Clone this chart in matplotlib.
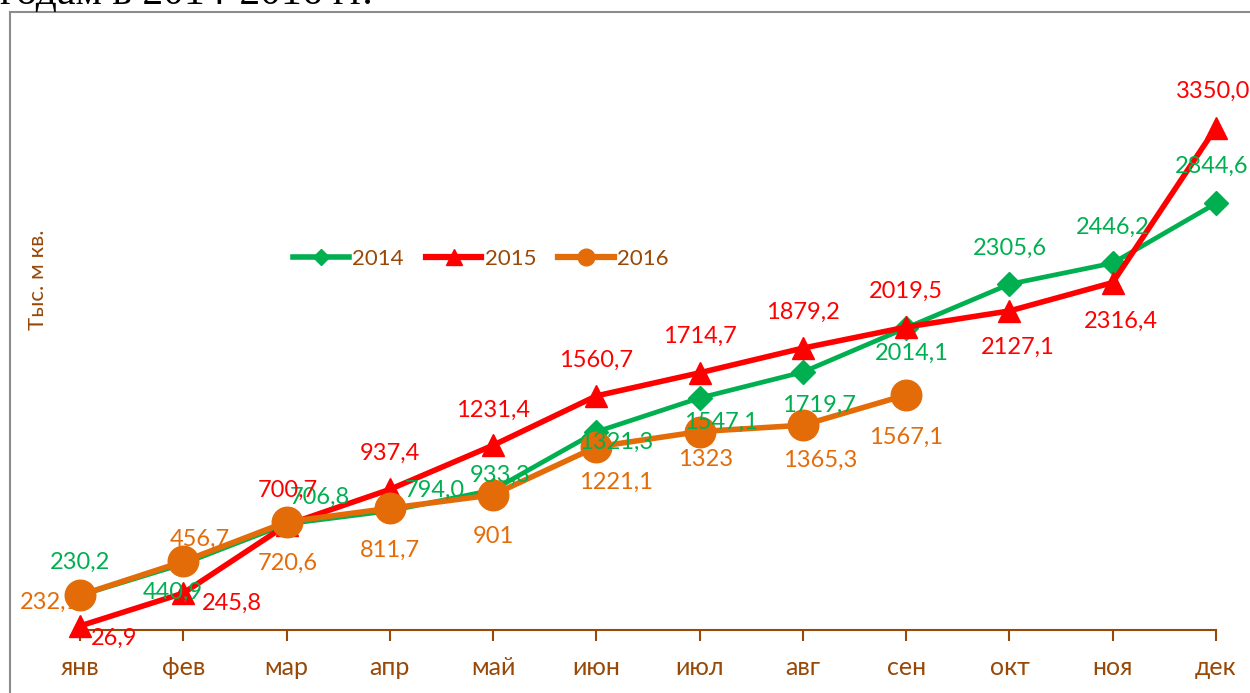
import numpy as np
import matplotlib.pyplot as plt
from matplotlib.lines import Line2D

# данные
months = ["янв", "фев", "мар", "апр", "май", "июн", "июл", "авг", "сен", "окт", "ноя", "дек"]
v2014 = [230.2, 440.9, 706.8, 794.0, 933.3, 1321.3, 1547.1, 1719.7, 2014.1, 2305.6, 2446.2, 2844.6]
v2015 = [26.9, 245.8, 700.7, 937.4, 1231.4, 1560.7, 1714.7, 1879.2, 2019.5, 2127.1, 2316.4, 3350.0]
v2016 = [232.1, 456.7, 720.6, 811.7, 901, 1221.1, 1323, 1365.3, 1567.1]
t2014 = ["230,2", "440,9", "706,8", "794,0", "933,3", "1321,3", "1547,1", "1719,7", "2014,1", "2305,6", "2446,2", "2844,6"]
t2015 = ["26,9", "245,8", "700,7", "937,4", "1231,4", "1560,7", "1714,7", "1879,2", "2019,5", "2127,1", "2316,4", "3350,0"]
t2016 = ["232,1", "456,7", "720,6", "811,7", "901", "1221,1", "1323", "1365,3", "1567,1"]

# смещения подписей (пиксели)
off2014 = [(0, 33), (-10, -28), (33, 27), (45, 21), (7, 15), (20, -11), (21, -24), (16, -33),
           (6, -25), (0, 36), (0, 36), (-4, 37)]
off2015 = [(34, -12), (49, -10), (1, 35), (0, 36), (0, 35), (0, 36), (0, 36), (0, 36),
           (0, 36), (8, -36), (8, -39), (-3, 36)]
off2016 = [(-30, -7), (17, 22), (1, -41), (0, -42), (0, -42), (20, -36), (6, -28), (17, -35), (0, -42)]

green = "#00B050"
red = "#FF0000"
orange = "#E36C09"
brown = "#984807"
font = ["Lato", "Noto Sans", "DejaVu Sans"]
plt.rcParams["font.family"] = font

fig = plt.figure(figsize=(12.5, 6.93), dpi=100)
ax = fig.add_axes([80 / 1250, 63 / 693, 1136 / 1250, 600 / 693])

x = np.arange(len(months))
ax.plot(x, v2014, color=green, lw=3.4, marker="D", ms=12, clip_on=False, zorder=3)
ax.plot(x, v2015, color=red, lw=4, marker="^", ms=16, clip_on=False, zorder=4)
ax.plot(x[:len(v2016)], v2016, color=orange, lw=4, marker="o", ms=22, clip_on=False, zorder=5)

for vals, labels, offs, c in [(v2014, t2014, off2014, green), (v2015, t2015, off2015, red),
                              (v2016, t2016, off2016, orange)]:
    for i, (v, s) in enumerate(zip(vals, labels)):
        ax.annotate(s, (i, v), xytext=offs[i], textcoords="offset pixels",
                    ha="center", va="center", color=c, fontsize=17, zorder=6,
                    annotation_clip=False)

ax.set_xlim(0, 11)
ax.set_ylim(0, 4000)
ax.set_xticks(x)
ax.set_xticklabels(months)
ax.set_yticks([])
for s in ["top", "right", "left"]:
    ax.spines[s].set_visible(False)
ax.spines["bottom"].set_color(brown)
ax.spines["bottom"].set_linewidth(1.5)
ax.tick_params(axis="x", colors=brown, labelsize=18, length=8, width=1.5, pad=11)
ax.set_ylabel("Тыс. м кв.", color=brown, fontsize=16)
ax.yaxis.set_label_coords(-32 / 1136, (630 - 280) / 600)

handles = [Line2D([], [], color=green, lw=4, marker="D", ms=8),
           Line2D([], [], color=red, lw=4.5, marker="^", ms=11),
           Line2D([], [], color=orange, lw=4.5, marker="o", ms=12)]
leg = ax.legend(handles, ["2014", "2015", "2016"], ncol=3, frameon=False,
                loc="center", bbox_to_anchor=(0.353, 0.618), fontsize=16,
                handlelength=2.5, handletextpad=0.15, columnspacing=1.0)
for t in leg.get_texts():
    t.set_color(brown)

# рамка и обрезанный заголовок
fig.add_artist(Line2D([10 / 1250, 10 / 1250], [0, 1 - 12 / 693], color="#8c8c8c", lw=1.5))
fig.add_artist(Line2D([10 / 1250, 1], [1 - 12 / 693, 1 - 12 / 693], color="#8c8c8c", lw=1.5))
fig.text(0, 1 - 4 / 693, "годам в 2014-2016 гг.", family="Liberation Serif", fontsize=30,
         va="baseline", ha="left", color="black")

fig.savefig("out.png", dpi=100)
